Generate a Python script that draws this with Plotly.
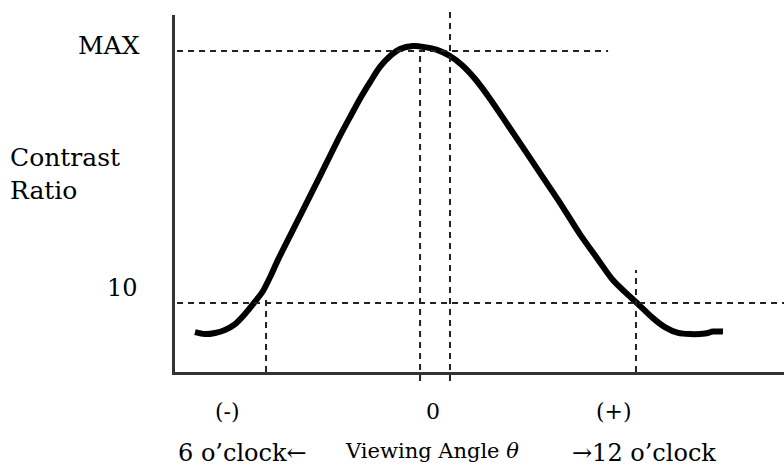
import plotly.graph_objects as go

# ---- data (schematic contrast ratio vs viewing angle) ----
angle = [-75.0, -72.1, -69.1, -66.2, -63.2, -60.3, -57.4, -55.0, -52.9, -50.6,
         -47.1, -44.1, -38.2, -32.4, -29.4, -26.5, -23.5, -20.6, -17.6, -14.7,
         -10.9, -7.4, -3.8, 0.0, 3.5, 7.4, 11.8, 15.6, 20.6, 26.5,
         32.4, 38.2, 43.2, 47.9, 51.5, 55.0, 59.7, 63.2, 67.1, 70.6,
         75.0, 77.4, 80.3]
contrast = [-0.4, -1.1, -0.7, 0.4, 2.5, 6.1, 10.4, 14.3, 19.3, 25.4,
            33.9, 41.1, 55.4, 69.6, 76.4, 82.9, 88.9, 94.3, 98.2, 100.7,
            101.8, 101.4, 100.4, 98.2, 95.0, 90.0, 82.9, 76.1, 67.1, 56.4,
            45.7, 34.6, 26.1, 18.2, 13.9, 10.0, 4.6, 1.4, -0.7, -1.1,
            -0.9, -0.2, -0.2]

level_max = 100
level_10 = 10
peak_angle = -8.8
cross_neg = -54.1
cross_pos = 54.7
max_line_end = 46.5
cross_pos_top = 21.8
cross_neg_top = 11.4

x_range = [-80.88, 98.24]
y_range = [-14.64, 112.86]

FONT = "DejaVu Serif"
DOT = dict(color="#222222", width=2, dash="6px,5px")

fig = go.Figure()
fig.add_trace(go.Scatter(
    x=angle, y=contrast, mode="lines",
    line=dict(color="black", width=6, shape="spline", smoothing=0.8),
    hoverinfo="skip", showlegend=False))

shapes = [
    dict(type="line", xref="x", yref="y", x0=x_range[0] + 0.6, x1=max_line_end,
         y0=level_max, y1=level_max, line=DOT),
    dict(type="line", xref="x", yref="y", x0=x_range[0] + 0.6, x1=x_range[1],
         y0=level_10, y1=level_10, line=DOT),
    dict(type="line", xref="x", yref="paper", x0=0, x1=0, y0=-0.025, y1=1.014, line=DOT),
    dict(type="line", xref="x", yref="paper", x0=peak_angle, x1=peak_angle,
         y0=-0.025, y1=0.899, line=DOT),
    dict(type="line", xref="x", yref="y", x0=cross_neg, x1=cross_neg,
         y0=y_range[0], y1=cross_neg_top, line=DOT),
    dict(type="line", xref="x", yref="y", x0=cross_pos, x1=cross_pos,
         y0=y_range[0], y1=cross_pos_top, line=DOT),
]

ann = [
    dict(text="MAX", xref="paper", yref="y", x=-0.054, y=level_max, yshift=6,
         xanchor="right", yanchor="middle", font=dict(size=25)),
    dict(text="10", xref="paper", yref="y", x=-0.057, y=level_10, yshift=15,
         xanchor="right", yanchor="middle", font=dict(size=24)),
    dict(text="Contrast<br>Ratio", xref="paper", yref="paper", x=-0.274, y=0.555,
         xanchor="left", yanchor="middle", align="left", font=dict(size=25)),
    dict(text="(-)", xref="paper", yref="paper", x=0.0854, y=-0.112,
         xanchor="center", yanchor="middle", font=dict(size=22)),
    dict(text="0", xref="paper", yref="paper", x=0.4236, y=-0.112,
         xanchor="center", yanchor="middle", font=dict(size=22)),
    dict(text="(+)", xref="paper", yref="paper", x=0.7209, y=-0.112,
         xanchor="center", yanchor="middle", font=dict(size=22)),
    dict(text="6 o’clock←", xref="paper", yref="paper", x=0.1108, y=-0.227,
         xanchor="center", yanchor="middle", font=dict(size=24)),
    dict(text="Viewing Angle <i>θ</i>", xref="paper", yref="paper", x=0.4228, y=-0.222,
         xanchor="center", yanchor="middle", font=dict(size=21)),
    dict(text="→12 o’clock", xref="paper", yref="paper", x=0.7693, y=-0.227,
         xanchor="center", yanchor="middle", font=dict(size=24)),
]
for a in ann:
    a["showarrow"] = False
    a["font"]["family"] = FONT
    a["font"]["color"] = "black"

fig.update_layout(
    width=784, height=466,
    margin=dict(l=175, r=0, t=15, b=94),
    paper_bgcolor="white", plot_bgcolor="white",
    shapes=shapes, annotations=ann,
    xaxis=dict(range=x_range, showgrid=False, zeroline=False, showticklabels=False,
               ticks="", showline=True, linecolor="#333333", linewidth=2.5),
    yaxis=dict(range=y_range, showgrid=False, zeroline=False, showticklabels=False,
               ticks="", showline=True, linecolor="#333333", linewidth=2.5),
    showlegend=False,
)

fig.write_html("out.html",
               config={"displayModeBar": False},
               post_script="document.body.style.margin='0';document.body.style.overflow='hidden';")
